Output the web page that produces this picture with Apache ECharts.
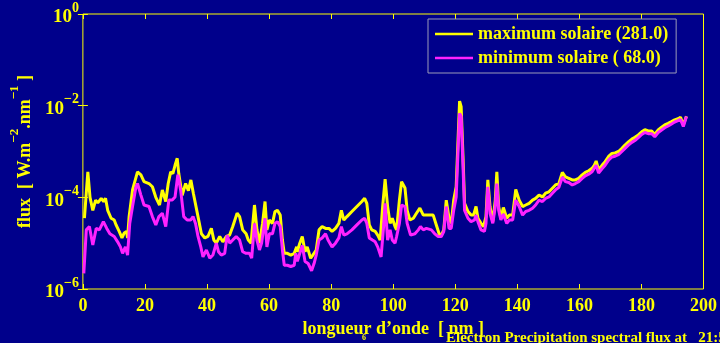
<!DOCTYPE html>
<html>
<head>
<meta charset="utf-8">
<script src="https://cdn.jsdelivr.net/npm/echarts@6/dist/echarts.min.js"></script>
<style>html,body{margin:0;padding:0;background:#00008b;}#c{width:720px;height:343px;}</style>
</head>
<body>
<div id="c"></div>
<script>
// wavelength (nm) and flux (W.m-2.nm-1)
const maxWl = [0.5,1.6,2.3,3.2,4.1,4.8,5.9,6.7,7.3,8.0,9.1,10.1,10.7,11.7,12.6,13.3,14.1,14.4,14.9,16.0,17.6,18.7,19.7,21.3,22.4,23.5,24.7,25.6,26.7,27.5,28.3,29.0,29.7,30.4,30.9,32.0,33.1,34.0,34.8,35.6,36.1,37.1,38.2,39.3,40.3,41.4,42.2,43.0,44.1,45.1,46.2,47.3,48.3,49.7,50.5,51.5,52.6,53.3,54.2,55.3,56.1,56.9,57.9,58.7,59.3,60.1,61.1,61.9,62.7,63.6,64.3,64.9,65.9,67.0,68.1,68.9,69.1,69.9,70.7,71.6,72.3,73.4,74.1,75.2,76.1,77.1,78.2,79.3,80.3,81.4,82.5,83.3,84.1,85.1,86.7,88.3,89.9,90.8,91.5,92.3,93.1,94.2,95.0,95.8,96.6,97.4,98.2,99.0,99.7,100.6,101.1,102.0,102.7,103.8,104.5,105.4,106.5,107.5,108.6,109.7,111.3,112.9,113.9,114.8,115.5,116.3,117.1,118.0,118.7,119.5,120.3,120.9,121.4,121.9,122.5,123.0,124.1,125.1,125.9,126.7,127.3,128.3,129.1,129.9,130.5,131.2,132.1,132.9,133.4,134.0,134.7,135.5,136.6,137.4,138.5,139.5,140.6,141.7,142.7,143.8,144.9,145.9,147.0,148.1,149.1,150.2,151.3,152.3,153.4,154.5,155.5,156.6,157.7,158.7,159.8,160.9,161.9,163.0,164.1,164.8,165.4,166.2,167.3,168.3,169.4,170.5,171.5,172.6,173.7,174.7,175.8,176.9,177.9,179.0,180.1,181.1,182.2,183.3,184.3,185.4,186.5,187.5,188.6,189.7,190.7,191.8,192.6,193.5,194.5];
const maxFlux = [3.5e-5,3.6e-4,1.0e-4,5.2e-5,8.7e-5,7.6e-5,9.5e-5,8.1e-5,9.5e-5,5.2e-5,3.5e-5,3.2e-5,2.5e-5,1.8e-5,1.3e-5,1.66e-5,1.8e-5,1.3e-5,3.8e-5,1.45e-4,3.6e-4,3.1e-4,2.2e-4,2.0e-4,1.7e-4,1.0e-4,6.8e-5,1.45e-4,8.1e-5,2.0e-4,3.6e-4,3.3e-4,5.0e-4,7.1e-4,3.3e-4,1.1e-4,2.0e-4,1.4e-4,2.4e-4,1.23e-4,1.23e-4,3.8e-5,1.6e-5,1.3e-5,1.4e-5,2.1e-5,1.17e-5,1.0e-5,1.4e-5,1.07e-5,1.4e-5,1.5e-5,2.3e-5,4.5e-5,3.8e-5,1.95e-5,1.6e-5,1.17e-5,1.0e-5,6.8e-5,1.95e-5,1.0e-5,2.7e-5,8.1e-5,1.95e-5,3.2e-5,2.7e-5,4.9e-5,5.2e-5,4.1e-5,1.17e-5,6.0e-6,6.0e-6,5.5e-6,6.0e-6,8.3e-6,6.5e-6,1.0e-5,1.4e-5,6.5e-6,8.3e-6,4.7e-6,5.5e-6,7.1e-6,1.95e-5,2.3e-5,2.1e-5,2.1e-5,1.8e-5,2.1e-5,2.7e-5,5.2e-5,3.2e-5,3.8e-5,4.9e-5,6.3e-5,8.1e-5,9.5e-5,7.4e-5,2.5e-5,1.95e-5,1.8e-5,1.5e-5,1.17e-5,6.3e-5,2.5e-4,6.3e-5,2.7e-5,3.5e-5,2.3e-5,1.95e-5,8.7e-5,2.2e-4,1.6e-4,5.2e-5,3.2e-5,3.5e-5,4.5e-5,5.8e-5,4.1e-5,4.1e-5,4.1e-5,2.5e-5,1.6e-5,1.5e-5,1.95e-5,8.7e-5,3.5e-5,2.7e-5,8.7e-5,1.7e-4,1.8e-3,1.26e-2,9.5e-3,7.8e-4,7.4e-5,4.9e-5,4.1e-5,4.1e-5,6.3e-5,3.5e-5,2.7e-5,2.3e-5,3.8e-5,2.4e-4,6.3e-5,2.95e-5,8.7e-5,3.6e-4,6.3e-5,3.5e-5,6.0e-5,3.5e-5,4.1e-5,4.1e-5,1.48e-4,8.7e-5,6.3e-5,6.8e-5,7.4e-5,8.7e-5,9.5e-5,1.12e-4,1.02e-4,1.23e-4,1.32e-4,1.58e-4,1.86e-4,2.0e-4,3.5e-4,2.8e-4,2.6e-4,2.4e-4,2.4e-4,2.6e-4,3.1e-4,3.5e-4,3.8e-4,4.3e-4,5.0e-4,6.2e-4,4.0e-4,5.0e-4,6.0e-4,7.8e-4,9.1e-4,9.3e-4,1.0e-3,1.17e-3,1.38e-3,1.62e-3,1.86e-3,2.04e-3,2.3e-3,2.7e-3,3.0e-3,2.8e-3,2.8e-3,2.35e-3,2.95e-3,3.4e-3,3.8e-3,4.1e-3,4.5e-3,4.9e-3,5.2e-3,5.6e-3,3.8e-3,5.9e-3];
const minWl = [0.3,1.1,2.1,3.2,4.3,5.3,6.6,7.7,8.7,10.1,11.2,12.1,12.8,13.7,14.4,15.1,16.0,17.1,17.6,18.7,19.7,21.3,22.4,23.5,24.5,25.6,26.7,27.7,28.8,29.7,30.6,31.5,32.5,33.6,34.7,35.5,36.3,37.1,38.0,38.7,39.8,40.9,41.9,43.0,43.7,44.6,45.7,46.5,47.3,48.3,49.4,50.5,51.5,52.6,53.7,54.4,55.3,56.1,56.9,57.6,58.7,59.3,60.1,61.1,61.9,62.7,63.6,64.3,64.9,65.9,67.0,68.1,68.6,69.1,69.9,70.7,71.6,72.6,73.7,74.5,75.2,76.1,77.1,78.2,79.0,80.3,81.4,82.5,83.3,84.1,85.1,86.7,88.3,89.9,90.8,91.5,92.3,93.3,94.2,95.0,96.1,96.9,97.4,98.2,99.0,99.7,100.6,101.1,102.0,102.7,103.8,104.5,105.6,107.0,108.1,108.8,109.7,110.7,112.3,113.4,114.5,115.5,116.3,117.1,118.0,118.7,119.5,120.3,120.9,121.4,121.9,122.5,123.0,124.1,125.1,126.2,126.7,127.3,128.3,129.4,129.9,130.5,131.2,132.1,132.9,133.4,134.0,134.7,135.5,136.6,137.4,138.5,139.5,140.6,141.7,142.7,143.8,144.9,145.9,147.0,148.1,149.1,150.2,151.3,152.3,153.4,154.5,155.5,156.6,157.7,158.7,159.8,160.9,161.9,163.0,164.1,164.8,165.4,166.2,167.3,168.3,169.4,170.5,171.5,172.6,173.7,174.7,175.8,176.9,177.9,179.0,180.1,181.1,182.2,183.3,184.3,185.4,186.5,187.5,188.6,189.7,190.7,191.8,192.6,193.5,194.5];
const minFlux = [2.2e-6,1.95e-5,2.3e-5,9.1e-6,2.1e-5,1.95e-5,2.95e-5,2.1e-5,1.6e-5,1.4e-5,1.07e-5,8.3e-6,6.0e-6,8.3e-6,5.5e-6,2.7e-5,6.3e-5,1.7e-4,2.0e-4,1.12e-4,6.8e-5,6.3e-5,3.8e-5,2.5e-5,3.8e-5,4.5e-5,2.3e-5,8.7e-5,8.7e-5,1.02e-4,3.1e-4,1.45e-4,3.8e-5,3.2e-5,3.2e-5,3.8e-5,2.7e-5,1.4e-5,8.3e-6,5.0e-6,7.1e-6,4.7e-6,5.5e-6,1.0e-5,6.5e-6,5.5e-6,6.0e-6,1.5e-5,1.0e-5,1.17e-5,1.4e-5,1.17e-5,6.5e-6,6.0e-6,6.0e-6,4.7e-6,2.7e-5,1.17e-5,7.1e-6,1.0e-5,3.5e-5,8.3e-6,1.6e-5,1.6e-5,2.7e-5,2.95e-5,2.3e-5,7.1e-6,3.3e-6,3.3e-6,3.1e-6,3.3e-6,6.0e-6,4.0e-6,6.0e-6,8.9e-6,4.0e-6,3.6e-6,2.5e-6,3.6e-6,5.5e-6,1.17e-5,1.3e-5,1.6e-5,1.17e-5,8.3e-6,1.0e-5,1.3e-5,2.3e-5,1.5e-5,1.6e-5,1.95e-5,2.5e-5,3.2e-5,3.5e-5,2.7e-5,1.3e-5,1.17e-5,1.07e-5,8.3e-6,5.0e-6,2.3e-5,7.4e-5,1.17e-5,1.95e-5,1.17e-5,1.0e-5,1.4e-5,2.7e-5,6.8e-5,6.3e-5,2.7e-5,1.5e-5,1.6e-5,1.95e-5,2.3e-5,1.95e-5,2.1e-5,1.95e-5,1.6e-5,1.4e-5,1.4e-5,1.8e-5,6.3e-5,2.1e-5,2.1e-5,5.2e-5,1.02e-4,1.07e-3,6.8e-3,5.8e-3,4.7e-4,5.2e-5,3.5e-5,2.95e-5,3.2e-5,4.1e-5,2.95e-5,1.95e-5,1.8e-5,2.7e-5,1.7e-4,4.5e-5,2.7e-5,6.3e-5,2.0e-4,5.2e-5,3.2e-5,4.3e-5,2.7e-5,3.2e-5,3.2e-5,8.7e-5,6.3e-5,4.1e-5,4.9e-5,5.2e-5,5.8e-5,6.8e-5,8.7e-5,8.1e-5,9.5e-5,1.02e-4,1.23e-4,1.45e-4,1.66e-4,2.75e-4,2.2e-4,2.1e-4,1.86e-4,2.0e-4,2.2e-4,2.6e-4,2.95e-4,3.2e-4,3.6e-4,4.3e-4,5.0e-4,3.4e-4,4.2e-4,5.0e-4,6.5e-4,7.6e-4,7.9e-4,8.5e-4,1.0e-3,1.17e-3,1.38e-3,1.58e-3,1.74e-3,2.0e-3,2.35e-3,2.6e-3,2.45e-3,2.45e-3,2.1e-3,2.6e-3,2.95e-3,3.3e-3,3.6e-3,4.0e-3,4.4e-3,4.7e-3,5.0e-3,3.5e-3,5.8e-3];
const xTicks = [0,20,40,60,80,100,120,140,160,180,200];
const legendNames = ['maximum solaire (281.0)', 'minimum solaire ( 68.0)'];

const YEL = '#ffff00', MAG = '#ff22ff', BG = '#00008b';
const FONT = '"Liberation Serif", "DejaVu Serif", serif';
const pairs = (xs, ys) => xs.map((x, i) => [x, ys[i]]);

const chart = echarts.init(document.getElementById('c'), null, {renderer: 'canvas'});
const tickStyle = {show: true, inside: true, length: 5, lineStyle: {color: YEL, width: 1}};
chart.setOption({
  backgroundColor: BG,
  animation: false,
  grid: {left: 79, right: 16, top: 14, bottom: 54, show: true, borderColor: YEL, borderWidth: 1, backgroundColor: 'transparent'},
  legend: {
    left: 428, top: 19, orient: 'vertical',
    padding: [5, 8, 5, 7], itemGap: 4, itemWidth: 38, itemHeight: 2.5,
    icon: 'rect',
    backgroundColor: BG, borderColor: '#9a9ab8', borderWidth: 1,
    textStyle: {color: YEL, fontFamily: FONT, fontWeight: 'bold', fontSize: 18, lineHeight: 20, padding: [0, 0, 0, 0]},
    data: legendNames
  },
  xAxis: [{
    type: 'value', min: 0, max: 200, interval: 20,
    name: 'longueur d\u2019onde  [ nm ]', nameLocation: 'middle', nameGap: 25,
    nameTextStyle: {color: YEL, fontFamily: FONT, fontWeight: 'bold', fontSize: 18},
    axisLine: {show: false}, splitLine: {show: false}, axisTick: tickStyle,
    axisLabel: {color: YEL, fontFamily: FONT, fontWeight: 'bold', fontSize: 18, margin: 8,
      customValues: xTicks, formatter: v => String(v)}
  }, {
    type: 'value', min: 0, max: 200, interval: 20, position: 'top',
    axisLine: {show: false}, splitLine: {show: false}, axisTick: tickStyle, axisLabel: {show: false}
  }],
  yAxis: [{
    type: 'log', logBase: 10, min: 1e-6, max: 1, interval: 2,
    name: '{t|flux  [ W.m}{s|\u22122}{t|.nm}{s|\u22121}{t| ]}', nameLocation: 'middle', nameGap: 44, nameRotate: 90,
    nameTextStyle: {color: YEL, fontFamily: FONT, fontWeight: 'bold', fontSize: 18,
      rich: {
        t: {color: YEL, fontFamily: FONT, fontWeight: 'bold', fontSize: 18, lineHeight: 26, verticalAlign: 'bottom'},
        s: {color: YEL, fontFamily: FONT, fontWeight: 'bold', fontSize: 13, lineHeight: 14, verticalAlign: 'top'}
      }},
    axisLine: {show: false}, splitLine: {show: false}, minorTick: {show: false}, axisTick: tickStyle,
    axisLabel: {margin: 4,
      formatter: v => { const e = Math.round(Math.log10(v)); return '{b|10}{s|' + (e === 0 ? '0' : '\u2212' + (-e)) + '}'; },
      rich: {
        b: {color: YEL, fontFamily: FONT, fontWeight: 'bold', fontSize: 19, lineHeight: 26, verticalAlign: 'bottom'},
        s: {color: YEL, fontFamily: FONT, fontWeight: 'bold', fontSize: 14, lineHeight: 14, verticalAlign: 'top'}
      }}
  }, {
    type: 'log', logBase: 10, min: 1e-6, max: 1, interval: 2, position: 'right',
    axisLine: {show: false}, splitLine: {show: false}, axisTick: tickStyle, axisLabel: {show: false}
  }],
  series: [{
    name: legendNames[0], type: 'line', data: pairs(maxWl, maxFlux), showSymbol: false, symbol: 'none',
    color: YEL, lineStyle: {color: YEL, width: 3}, z: 2
  }, {
    name: legendNames[1], type: 'line', data: pairs(minWl, minFlux), showSymbol: false, symbol: 'none',
    color: MAG, lineStyle: {color: MAG, width: 3}, z: 3
  }],
  graphic: [{
    type: 'text', left: 446, top: 331,
    style: {text: 'Electron Precipitation spectral flux at   21:5', fill: YEL, font: 'bold 15px ' + FONT}
  }, {
    type: 'text', left: 362, top: 334,
    style: {text: '6', fill: YEL, font: 'bold 8px ' + FONT}
  }]
});
</script>
</body>
</html>
